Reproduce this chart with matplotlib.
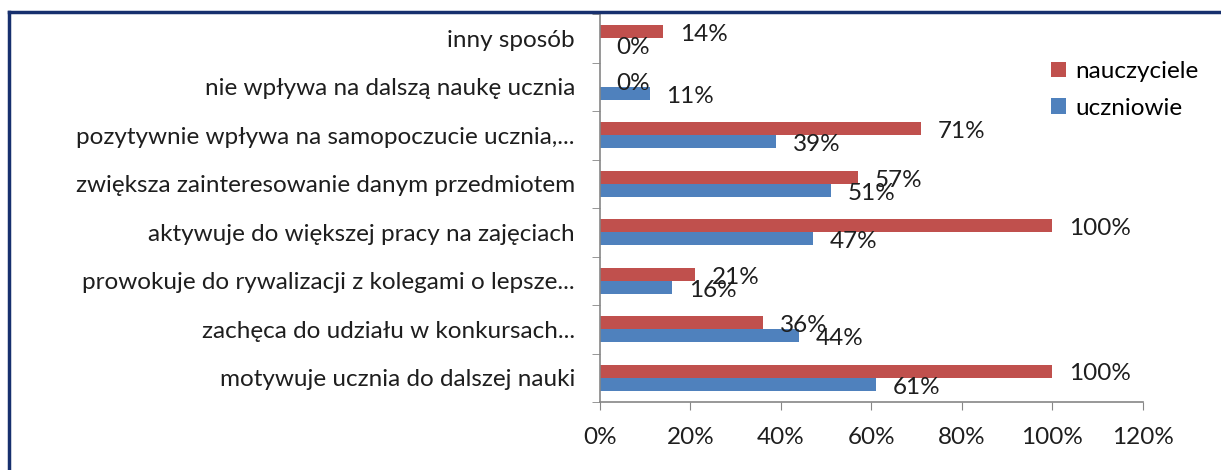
import numpy as np
import matplotlib.pyplot as plt
from matplotlib.lines import Line2D

plt.rcParams['font.family'] = ['Lato', 'DejaVu Sans']

categories = ['inny sposób',
              'nie wpływa na dalszą naukę ucznia',
              'pozytywnie wpływa na samopoczucie ucznia,...',
              'zwiększa zainteresowanie danym przedmiotem',
              'aktywuje do większej pracy na zajęciach',
              'prowokuje do rywalizacji z kolegami o lepsze...',
              'zachęca do udziału w konkursach...',
              'motywuje ucznia do dalszej nauki']
nauczyciele = [14, 0, 71, 57, 100, 21, 36, 100]
uczniowie = [0, 11, 39, 51, 47, 16, 44, 61]
xticks = [0, 20, 40, 60, 80, 100, 120]

red = '#C0504D'
blue = '#4F81BD'
axis_col = '#868686'
txt = '#1E1E1E'
fs = 17.5

fig = plt.figure(figsize=(12.21, 4.70), dpi=100)
ax = fig.add_axes([0.4914, 0.1447, 0.4447, 0.8253])

y = np.arange(len(categories))[::-1]
h = 0.27
bars_n = ax.barh(y + h / 2, nauczyciele, height=h, color=red, label='nauczyciele')
bars_u = ax.barh(y - h / 2, uczniowie, height=h, color=blue, label='uczniowie')

for bars, vals in [(bars_n, nauczyciele), (bars_u, uczniowie)]:
    for b, v in zip(bars, vals):
        ax.annotate(f'{v}%', (v, b.get_y() + b.get_height() / 2),
                    xytext=(12, -2), textcoords='offset points',
                    ha='left', va='center', fontsize=fs, color=txt)

ax.set_xlim(0, 120)
ax.set_ylim(-0.5, len(categories) - 0.5)
ax.set_xticks(xticks)
ax.set_xticklabels([f'{t}%' for t in xticks], fontsize=fs, color=txt)
ax.set_yticks(y)
ax.set_yticklabels(categories, fontsize=fs, color=txt)
ax.set_yticks(np.arange(len(categories) + 1) - 0.5, minor=True)
ax.tick_params(axis='y', which='major', length=0, pad=18)
ax.tick_params(axis='y', which='minor', length=6, color=axis_col, direction='out')
ax.tick_params(axis='x', length=6, color=axis_col, pad=12)

for s in ['top', 'right']:
    ax.spines[s].set_visible(False)
for s in ['left', 'bottom']:
    ax.spines[s].set_color(axis_col)
    ax.spines[s].set_linewidth(1.2)

leg = fig.legend(loc='upper left', bbox_to_anchor=(0.843, 0.917), frameon=False,
                 fontsize=fs, handlelength=0.6, handleheight=0.6,
                 handletextpad=0.4, labelspacing=0.65)

# ramka wykresu
fig.add_artist(Line2D([0.0075, 1.0], [0.975, 0.975], color='#17306E', lw=2.5))
fig.add_artist(Line2D([0.0075, 0.0075], [0.0, 0.975], color='#17306E', lw=2.5))

fig.savefig('out.png', dpi=100)
